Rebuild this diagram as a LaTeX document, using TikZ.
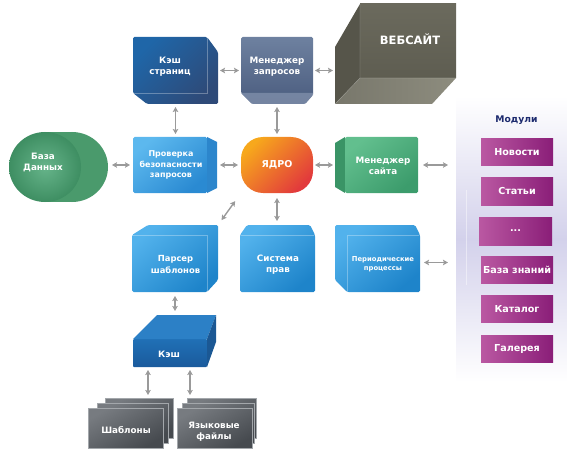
\documentclass[tikz,border=0pt]{standalone}
\usepackage{fontspec}
\setmainfont{DejaVu Sans}
\usetikzlibrary{arrows.meta}
\definecolor{arrgray}{HTML}{9A9A9A}
\definecolor{ksA}{HTML}{1F66A8}
\definecolor{ksB}{HTML}{2E4A78}
\definecolor{mqA}{HTML}{6E81A0}
\definecolor{mqB}{HTML}{4A5C7E}
\definecolor{mqC}{HTML}{8695B0}
\definecolor{wbMain}{HTML}{6B6A5D}
\definecolor{wbMainB}{HTML}{5E5D51}
\definecolor{wbSide}{HTML}{56554A}
\definecolor{wbBot}{HTML}{8D8C7E}
\definecolor{dbCapA}{HTML}{66B48A}
\definecolor{dbCapB}{HTML}{3E8E62}
\definecolor{dbBody}{HTML}{4A9A6C}
\definecolor{lbA}{HTML}{5CB8EE}
\definecolor{lbB}{HTML}{2A8AD2}
\definecolor{lbSide}{HTML}{2C86CC}
\definecolor{orA}{HTML}{F7A81C}
\definecolor{orB}{HTML}{E23A3C}
\definecolor{gnA}{HTML}{62BF8E}
\definecolor{gnB}{HTML}{3C9C6C}
\definecolor{gnSide}{HTML}{3A9466}
\definecolor{buA}{HTML}{52B2EC}
\definecolor{buB}{HTML}{1E84CA}
\definecolor{kcA}{HTML}{2070B6}
\definecolor{kcB}{HTML}{1A5A9C}
\definecolor{kcTop}{HTML}{2C80C6}
\definecolor{kcSide}{HTML}{1B5894}
\definecolor{cdA}{HTML}{777B80}
\definecolor{cdB}{HTML}{464A4F}
\definecolor{cdEdge}{HTML}{A3A7AB}
\definecolor{mdA}{HTML}{BA58A2}
\definecolor{mdB}{HTML}{8A1E78}
\definecolor{lavD}{HTML}{D3D1EB}
\definecolor{navy}{HTML}{1C2A6E}
\begin{document}
\begin{tikzpicture}[x=1pt,y=-1pt,
  arr/.style={draw=arrgray, line width=1.4pt, {Stealth[length=5pt,width=5.5pt,inset=1pt]}-{Stealth[length=5pt,width=5.5pt,inset=1pt]}},
  area/.style={inner sep=0pt, outer sep=0pt},
  lbl/.style={text=white, font=\bfseries\fontsize{8.8}{11.5}\selectfont, align=center, inner sep=0pt},
  edge/.style={draw=white, draw opacity=0.3, line width=0.6pt},
  modbox/.style={left color=mdA, right color=mdB, minimum width=72pt, minimum height=27pt, inner sep=0pt, text=white, font=\bfseries\fontsize{9.6}{10}\selectfont},
  card/.style={top color=cdA, bottom color=cdB, shading angle=30, draw=cdEdge, line width=0.6pt}
]
\useasboundingbox (0,0) rectangle (567,473);

% modules panel
\shade[top color=white, bottom color=white, middle color=lavD] (456,96) rectangle (567,382);
\draw[white, line width=0.8pt, opacity=0.45] (466,190) -- (466,285);
\node[area, minimum width=111pt, minimum height=286pt] (mods) at (511.5,239) {};
\node[text=navy, font=\bfseries\fontsize{9.2}{10}\selectfont, inner sep=0pt] (modt) at (516.5,120) {Модули};
\node[modbox] (m1) at (517,152.5) {Новости};
\node[modbox] (m2) at (517,191.5) {Статьи};
\node[modbox, minimum width=73pt, minimum height=28pt] (m3) at (515.5,231) {...};
\node[modbox] (m4) at (517,270) {База знаний};
\node[modbox] (m5) at (517,309) {Каталог};
\node[modbox] (m6) at (517,348.5) {Галерея};

% Кэш страниц
\shade[top color=ksA, bottom color=ksB, shading angle=45, rounded corners=1.5pt]
  (133,37) -- (207,37) -- (218,52) -- (218,104) -- (147,104) -- (133,93) -- cycle;
\draw[edge] (207,38) -- (207,93) -- (134,93);
\node[area, minimum width=85pt, minimum height=67pt] (kesh) at (175.5,70.5) {};
\node[lbl] (kesht) at (170,66.5) {Кэш\\страниц};

% Менеджер запросов
\shade[top color=mqA, bottom color=mqB, rounded corners=1.5pt]
  (241,37) -- (313,37) -- (313,95) -- (305,104) -- (252,104) -- (241,93) -- cycle;
\fill[mqC, opacity=0.7] (241,93) -- (313,93) -- (313,95) -- (305,104) -- (252,104) -- cycle;
\node[area, minimum width=72pt, minimum height=67pt] (menq) at (277,70.5) {};
\node[lbl] (menqt) at (277,66.5) {Менеджер\\запросов};

% ВЕБСАЙТ
\shade[top color=wbMain, bottom color=wbMainB] (360,4) rectangle (456,78);
\fill[wbSide] (335,47) -- (360,4) -- (360,78) -- (335,104) -- cycle;
\shade[left color=wbBot!85!black, right color=wbBot] (335,104) -- (360,78) -- (456,78) -- (432,104) -- cycle;
\draw[white, opacity=0.15, line width=0.6pt] (360,4) -- (360,78) -- (456,78) (360,78) -- (335,104);
\node[area, minimum width=121pt, minimum height=100pt] (web) at (395.5,54) {};
\node[lbl, font=\bfseries\fontsize{11.5}{13}\selectfont] (webt) at (410,39) {ВЕБСАЙТ};

% База Данных
\fill[dbBody] (72,167) ellipse (36pt and 35pt);
\fill[dbBody] (45,132) rectangle (72,202);
\shade[inner color=dbCapA, outer color=dbCapB] (45,167) ellipse (36pt and 35pt);
\node[area, minimum width=99pt, minimum height=70pt] (db) at (58.5,167) {};
\node[lbl] (dbt) at (43,162.5) {База\\Данных};

% Проверка безопасности запросов
\shade[top color=lbA, bottom color=lbB, shading angle=40, rounded corners=1.5pt] (133,137) rectangle (207,193);
\fill[lbSide] (207,137) -- (217,142) -- (217,188) -- (207,193) -- cycle;
\node[area, minimum width=84pt, minimum height=56pt] (prov) at (175,165) {};
\node[lbl, font=\bfseries\fontsize{8}{10.8}\selectfont] (provt) at (171,165) {Проверка\\безопасности\\запросов};

% ЯДРО
\shade[top color=orA, bottom color=orB, shading angle=45, rounded corners=22pt] (241,137) rectangle (313,193);
\node[area, minimum width=72pt, minimum height=56pt] (yadro) at (277,165) {};
\node[lbl, font=\bfseries\fontsize{9.5}{11}\selectfont] (yadrot) at (277,165) {ЯДРО};

% Менеджер сайта
\fill[gnSide] (335,143) -- (345,137) -- (345,193) -- (335,187) -- cycle;
\shade[top color=gnA, bottom color=gnB, shading angle=40, rounded corners=1.5pt] (345,137) rectangle (418,193);
\node[area, minimum width=83pt, minimum height=56pt] (msite) at (376.5,165) {};
\node[lbl] (msitet) at (383,166) {Менеджер\\сайта};

% Парсер шаблонов
\shade[top color=buA, bottom color=buB, shading angle=40, rounded corners=1.5pt]
  (132,235) -- (148,225) -- (218,225) -- (218,280) -- (207,292) -- (132,292) -- cycle;
\draw[edge] (133,235) -- (207,235) -- (207,291);
\node[area, minimum width=86pt, minimum height=67pt] (parser) at (175,258.5) {};
\node[lbl, font=\bfseries\fontsize{8.4}{11.5}\selectfont] (parsert) at (175.5,264.5) {Парсер\\шаблонов};

% Система прав
\shade[top color=buA, bottom color=buB, shading angle=40, rounded corners=1.5pt]
  (240,235) -- (247,225) -- (310,225) -- (315,235) -- (315,292) -- (240,292) -- cycle;
\draw[edge] (241,235) -- (314,235);
\node[area, minimum width=75pt, minimum height=67pt] (sys) at (277.5,258.5) {};
\node[lbl] (syst) at (278,264.5) {Система\\прав};

% Периодические процессы
\shade[top color=buA, bottom color=buB, shading angle=40, rounded corners=1.5pt]
  (335,225) -- (415,225) -- (420,235) -- (420,292) -- (347,292) -- (335,280) -- cycle;
\draw[edge] (347,291) -- (347,235) -- (419,235);
\node[area, minimum width=85pt, minimum height=67pt] (per) at (377.5,258.5) {};
\node[lbl, font=\bfseries\fontsize{6.8}{9.5}\selectfont] (pert) at (383,264) {Периодические\\процессы};

% Кэш
\shade[top color=kcA, bottom color=kcB, rounded corners=1pt] (133,339) rectangle (207,367);
\fill[kcTop] (133,339) -- (157,315) -- (216,315) -- (207,339) -- cycle;
\fill[kcSide] (207,339) -- (216,315) -- (216,342) -- (207,367) -- cycle;
\node[area, minimum width=83pt, minimum height=52pt] (kesh2) at (174.5,341) {};
\node[lbl] (kesh2t) at (169,354) {Кэш};

% Шаблоны cards
\shade[card] (105,398) rectangle (173,438);
\shade[card] (97,403) rectangle (168,443);
\shade[card] (88,408) rectangle (163,448);
\node[area, minimum width=85pt, minimum height=50pt] (shab) at (130.5,423) {};
\node[lbl] (shabt) at (126,430) {Шаблоны};

% Языковые файлы cards
\shade[card] (187,398) rectangle (256,438);
\shade[card] (182,403) rectangle (254,443);
\shade[card] (177,408) rectangle (252,448);
\node[area, minimum width=79pt, minimum height=50pt] (yaz) at (216.5,423) {};
\node[lbl] (yazt) at (214,431.5) {Языковые\\файлы};

% connectors
\draw[arr, shorten <=2pt, shorten >=2pt] (kesh.east) -- (menq.west);
\draw[arr, shorten <=2pt, shorten >=2pt] (menq.east) -- (menq.east -| web.west);
\draw[arr, shorten <=3pt, shorten >=3pt] (kesh.south) -- (kesh.south |- prov.north);
\draw[arr, shorten <=3pt, shorten >=3pt] (menq.south) -- (yadro.north);
\draw[arr, shorten <=4pt, shorten >=3pt] (prov.west -| db.east) -- (prov.west);
\draw[arr, shorten <=3pt, shorten >=3pt] (prov.east) -- (yadro.west);
\draw[arr, shorten <=2pt, shorten >=2pt] (yadro.east) -- (msite.west);
\draw[arr, shorten <=5pt, shorten >=8pt] (msite.east) -- (msite.east -| mods.west);
\draw[arr, shorten <=10pt, shorten >=6pt] (yadro.south west) -- (parser.north east);
\draw[arr, shorten <=5pt, shorten >=4pt] (yadro.south) -- (yadro.south |- sys.north);
\draw[arr, shorten <=4pt, shorten >=8pt] ([yshift=-4pt]per.east) -- ([yshift=-4pt]per.east -| mods.west);
\draw[arr, shorten <=4pt, shorten >=4pt] (parser.south) -- (parser.south |- kesh2.north);
\draw[arr, shorten <=3pt, shorten >=3pt] ([xshift=-26.5pt]kesh2.south) -- ([xshift=-26.5pt]kesh2.south |- shab.north);
\draw[arr, shorten <=3pt, shorten >=3pt] ([xshift=15.5pt]kesh2.south) -- ([xshift=15.5pt]kesh2.south |- yaz.north);
\end{tikzpicture}
\end{document}
